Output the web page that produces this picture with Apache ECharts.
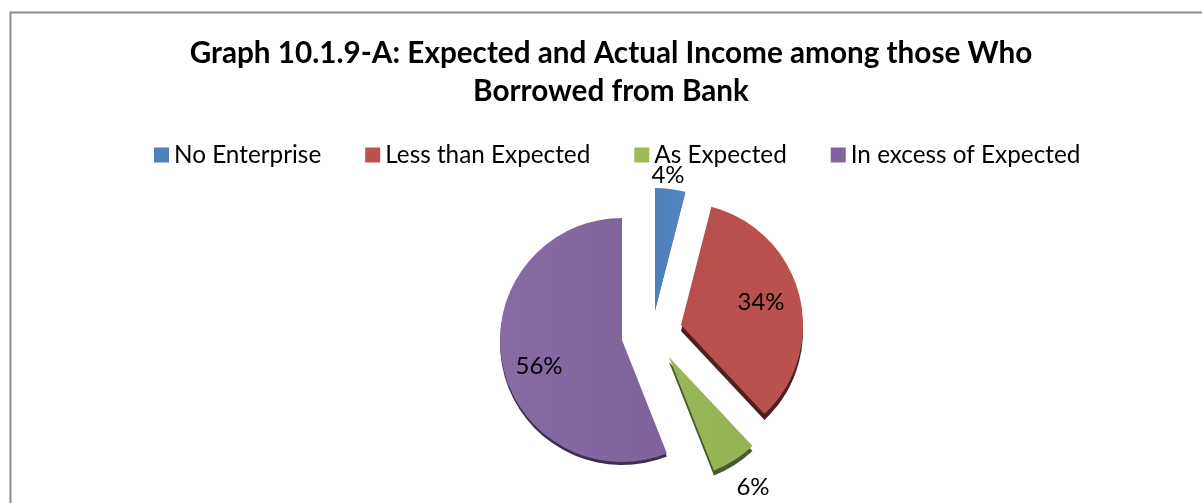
<!DOCTYPE html>
<html>
<head>
<meta charset="utf-8">
<style>html,body{margin:0;padding:0;background:#fff}#chart{width:1202px;height:503px}</style>
<script src="https://cdn.jsdelivr.net/npm/echarts@6/dist/echarts.min.js"></script>
</head>
<body>
<div id="chart"></div>
<script>
// Share of bank borrowers by actual income against expectation
const chartTitle = 'Graph 10.1.9-A: Expected and Actual Income among those Who\nBorrowed from Bank';
const categories = ['No Enterprise', 'Less than Expected', 'As Expected', 'In excess of Expected'];
const shares = [4, 34, 6, 56];

// Slice styling and layout
const faceColors = [['#4f80bb', '#5485c0'], ['#b64f4c', '#ba524f'], ['#98b758', '#96b254'], ['#876ba5', '#7e6299']];
const edgeColors = ['#41699b', '#4d201e', '#4b5a28', '#3e2f50'];
const legendColors = ['#4f81bd', '#c0504d', '#9bbb59', '#8064a2'];
const sliceCenters = [[655, 310], [681, 325], [669, 357], [622, 340]];
const labelCentres = [[668, 175], [761, 302], [753, 487], [539, 366]];
const edgeDepths = [1, 6, 5, 3];
const sliceRadius = 122;

function sliceSeries(i, start, fill, withLabel, depth) {
  return {
    type: 'pie',
    name: categories[i] + (withLabel ? '' : ' edge'),
    silent: true,
    z: withLabel ? 3 : 2,
    radius: [0, sliceRadius],
    center: [sliceCenters[i][0], sliceCenters[i][1] + depth],
    startAngle: 90 - start * 3.6,
    clockwise: true,
    avoidLabelOverlap: false,
    emphasis: { disabled: true },
    labelLine: { show: false },
    label: withLabel ? {
      show: true,
      position: 'inside',
      formatter: '{d}%',
      fontFamily: 'Lato',
      fontSize: 24,
      color: '#000'
    } : { show: false },
    labelLayout: withLabel ? () => ({
      x: labelCentres[i][0],
      y: labelCentres[i][1],
      align: 'center',
      verticalAlign: 'middle'
    }) : undefined,
    data: [
      { name: withLabel ? categories[i] : '', value: shares[i], itemStyle: { color: fill } },
      { name: '', value: 100 - shares[i], itemStyle: { color: 'transparent' }, label: { show: false } }
    ]
  };
}

const series = [];
let running = 0;
shares.forEach((v, i) => {
  const face = {
    type: 'linear', x: 0, y: 0, x2: 1, y2: 0,
    colorStops: [{ offset: 0, color: faceColors[i][0] }, { offset: 1, color: faceColors[i][1] }]
  };
  series.push(sliceSeries(i, running, edgeColors[i], false, edgeDepths[i]));
  series.push(sliceSeries(i, running, face, true, 0));
  running += v;
});

const chart = echarts.init(document.getElementById('chart'), null, { renderer: 'canvas' });
chart.setOption({
  animation: false,
  backgroundColor: '#fff',
  title: {
    text: chartTitle,
    left: 611,
    top: 34,
    padding: 0,
    textAlign: 'center',
    textStyle: { fontFamily: 'Lato', fontWeight: 'bold', fontSize: 29.7, lineHeight: 38, color: '#000' }
  },
  legend: {
    left: 154,
    top: 143,
    padding: 0,
    itemWidth: 15,
    itemHeight: 15,
    itemGap: 44,
    icon: 'rect',
    selectedMode: false,
    textStyle: { fontFamily: 'Lato', fontSize: 24.3, color: '#000' },
    data: categories.map((name, i) => ({ name, itemStyle: { color: legendColors[i] } }))
  },
  graphic: [{
    type: 'polyline',
    silent: true,
    shape: { points: [[10.5, 503], [10.5, 12.5], [1202, 12.5]] },
    style: { stroke: '#8c8c8c', lineWidth: 2, fill: null }
  }],
  series
});
</script>
</body>
</html>
